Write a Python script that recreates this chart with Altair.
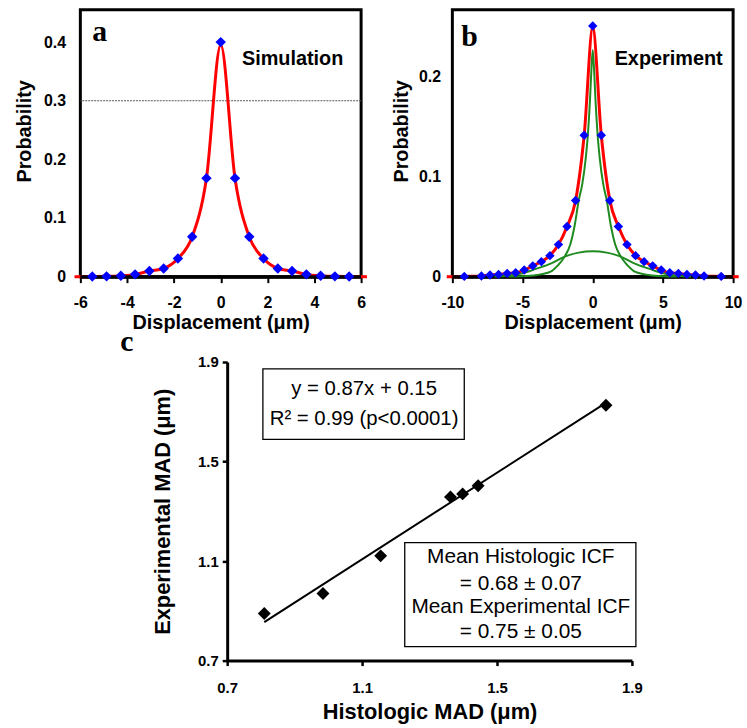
import altair as alt
import pandas as pd

FONT = "Liberation Sans"
SERIF = "Liberation Serif"

# ---------------- data ----------------
# panel a : simulation
sim_x = [-5.49, -4.88, -4.27, -3.66, -3.05, -2.44, -1.83, -1.22, -0.61, 0.0,
         0.61, 1.22, 1.83, 2.44, 3.05, 3.66, 4.27, 4.88, 5.49]
sim_p = [0.0003, 0.0006, 0.0017, 0.004, 0.0096, 0.014, 0.031, 0.068, 0.168, 0.400,
         0.168, 0.068, 0.031, 0.014, 0.0096, 0.004, 0.0017, 0.0006, 0.0003]
sim_fit_x = [-6.25, -5.49, -4.88, -4.27, -3.66, -3.05, -2.44, -1.83, -1.22, -0.61, 0.0,
             0.61, 1.22, 1.83, 2.44, 3.05, 3.66, 4.27, 4.88, 5.49, 6.25]
sim_fit_p = [0.0, 0.0003, 0.0006, 0.0017, 0.004, 0.0096, 0.014, 0.031, 0.068, 0.168, 0.395,
             0.168, 0.068, 0.031, 0.014, 0.0096, 0.004, 0.0017, 0.0006, 0.0003, 0.0]
sim_ref_line = [0.3]
sim_xticks = [-6, -4, -2, 0, 2, 4, 6]
sim_yticks = [0, 0.1, 0.2, 0.3, 0.4]

# panel b : experiment
exp_x = [-9.15, -7.93, -7.32, -6.71, -6.10, -5.49, -4.88, -4.27, -3.66, -3.05, -2.44,
         -1.83, -1.22, -0.61, 0.0, 0.61, 1.22, 1.83, 2.44, 3.05, 3.66, 4.27, 4.88,
         5.49, 6.10, 6.71, 7.32, 7.93, 9.15]
exp_p = [0.0003, 0.0007, 0.0017, 0.0023, 0.0033, 0.004, 0.0066, 0.0108, 0.015, 0.021, 0.032,
         0.050, 0.076, 0.141, 0.250, 0.141, 0.076, 0.050, 0.032, 0.021, 0.015, 0.0108, 0.0066,
         0.004, 0.0033, 0.0023, 0.0017, 0.0007, 0.0003]
exp_fit_x = [-10.4, -9.15, -7.93, -7.32, -6.71, -6.10, -5.49, -4.88, -4.27, -3.66, -3.05, -2.44,
             -1.83, -1.22, -0.61, 0.0, 0.61, 1.22, 1.83, 2.44, 3.05, 3.66, 4.27, 4.88,
             5.49, 6.10, 6.71, 7.32, 7.93, 9.15, 10.4]
exp_fit_p = [0.0, 0.0003, 0.0007, 0.0017, 0.0023, 0.0033, 0.004, 0.0066, 0.0108, 0.015, 0.021, 0.032,
             0.050, 0.076, 0.141, 0.248, 0.141, 0.076, 0.050, 0.032, 0.021, 0.015, 0.0108, 0.0066,
             0.004, 0.0033, 0.0023, 0.0017, 0.0007, 0.0003, 0.0]
narrow_x = [-6, -5, -4, -3, -2.5, -2, -1.6, -1.3, -1.0, -0.75, -0.5, -0.35, -0.2, -0.1, 0,
            0.1, 0.2, 0.35, 0.5, 0.75, 1.0, 1.3, 1.6, 2, 2.5, 3, 4, 5, 6]
narrow_p = [0.0002, 0.0005, 0.0017, 0.005, 0.011, 0.020, 0.032, 0.050, 0.076, 0.092, 0.118,
            0.141, 0.175, 0.205, 0.226, 0.205, 0.175, 0.141, 0.118, 0.092, 0.076, 0.050,
            0.032, 0.020, 0.011, 0.005, 0.0017, 0.0005, 0.0002]
broad_x = [-7, -6, -5, -4, -3, -2, -1, 0, 1, 2, 3, 4, 5, 6, 7]
broad_p = [0.0003, 0.001, 0.0033, 0.008, 0.013, 0.020, 0.024, 0.0254,
           0.024, 0.020, 0.013, 0.008, 0.0033, 0.001, 0.0003]
exp_xticks = [-10, -5, 0, 5, 10]
exp_yticks = [0, 0.1, 0.2]

# panel c : MAD comparison
hist_mad = [0.81, 0.984, 1.155, 1.362, 1.398, 1.444, 1.823]
exp_mad = [0.889, 0.97, 1.121, 1.358, 1.37, 1.403, 1.726]
reg_x = [0.81, 1.81]
reg_y = [0.855, 1.725]
mad_ticks = [0.7, 1.1, 1.5, 1.9]

eq_lines = ["y = 0.87x + 0.15", "R² = 0.99 (p<0.0001)"]
icf_lines = ["Mean Histologic ICF", "= 0.68 ± 0.07", "Mean Experimental ICF", "= 0.75 ± 0.05"]

# ---------------- helpers ----------------
def x_axis_top(values):
    return alt.Axis(values=values, title="Displacement (μm)", tickSize=6, tickWidth=2,
                    labelExpr="'' + datum.value",
                    tickColor="black", domainColor="black", domainWidth=3,
                    labelPadding=12, titlePadding=2, labelFontSize=16, titleFontSize=20,
                    labelFontWeight="bold", titleFontWeight="bold", labelFlush=False,
                    grid=False)


def y_axis_top(values, lp, ext, tp):
    return alt.Axis(values=values, title="Probability",
                    labelExpr="datum.value == 0 ? '0' : format(datum.value, '.1f')",
                    domain=False, ticks=False, labelPadding=lp, minExtent=ext, maxExtent=ext,
                    titlePadding=tp, titleY=122, labelFontSize=16, titleFontSize=20,
                    labelFontWeight="bold", titleFontWeight="bold", grid=False)


def text_chart(txt, x, y, size, weight="bold", font=FONT, align="center", baseline="middle"):
    return alt.Chart(pd.DataFrame({"t": [txt]})).mark_text(
        font=font, fontSize=size, fontWeight=weight, align=align, baseline=baseline,
        color="black").encode(text="t:N", x=alt.value(x), y=alt.value(y))


# ---------------- panel a ----------------
xa = dict(scale=alt.Scale(domain=[-6, 6], nice=False, zero=False),
          axis=x_axis_top(sim_xticks))
ya = dict(scale=alt.Scale(domain=[0, 0.455], nice=False),
          axis=y_axis_top(sim_yticks, 15, 36, 10))

df_a = pd.DataFrame({"x": sim_x, "p": sim_p})
df_a_fit = pd.DataFrame({"x": sim_fit_x, "p": sim_fit_p})

a_ref = alt.Chart(pd.DataFrame({"p": sim_ref_line})).mark_rule(
    color="#555555", strokeWidth=1, strokeDash=[2, 1]).encode(y=alt.Y("p:Q", **ya))
a_fit = alt.Chart(df_a_fit).mark_line(color="#ff0000", strokeWidth=3, clip=False,
                                      interpolate="monotone").encode(
    x=alt.X("x:Q", **xa), y=alt.Y("p:Q", **ya))
a_base = alt.Chart(pd.DataFrame({"p": [0]})).mark_rule(color="black", strokeWidth=3).encode(
    y=alt.Y("p:Q", **ya))
a_pts = alt.Chart(df_a).mark_point(shape="diamond", filled=True, color="#0000ff",
                                   size=110, opacity=1).encode(
    x=alt.X("x:Q", **xa), y=alt.Y("p:Q", **ya))
panel_a = alt.layer(
    a_ref, a_fit, a_base, a_pts,
    text_chart("a", 12, 31, 30, font=SERIF, align="left", baseline="alphabetic"),
    text_chart("Simulation", 214, 50, 20),
    # label of panel c, placed below panel a (left of panel c's axis title)
    text_chart("c", 47, 344, 30, font=SERIF, align="center", baseline="alphabetic"),
).properties(width=283, height=269,
             view=alt.ViewBackground(stroke="black", strokeWidth=3))

# ---------------- panel b ----------------
xb = dict(scale=alt.Scale(domain=[-10, 10], nice=False, zero=False),
          axis=x_axis_top(exp_xticks))
yb = dict(scale=alt.Scale(domain=[0, 0.266], nice=False),
          axis=y_axis_top(exp_yticks, 12, 33, 8))

df_b = pd.DataFrame({"x": exp_x, "p": exp_p})
df_b_fit = pd.DataFrame({"x": exp_fit_x, "p": exp_fit_p})
df_n = pd.DataFrame({"x": narrow_x, "p": narrow_p})
df_w = pd.DataFrame({"x": broad_x, "p": broad_p})

b_fit = alt.Chart(df_b_fit).mark_line(color="#ff0000", strokeWidth=3, clip=False,
                                      interpolate="monotone").encode(
    x=alt.X("x:Q", **xb), y=alt.Y("p:Q", **yb))
b_base = alt.Chart(pd.DataFrame({"p": [0]})).mark_rule(color="black", strokeWidth=3).encode(
    y=alt.Y("p:Q", **yb))
b_narrow = alt.Chart(df_n).mark_line(color="#1f8a1f", strokeWidth=2,
                                     interpolate="monotone").encode(
    x=alt.X("x:Q", **xb), y=alt.Y("p:Q", **yb))
b_broad = alt.Chart(df_w).mark_line(color="#1f8a1f", strokeWidth=2,
                                    interpolate="monotone").encode(
    x=alt.X("x:Q", **xb), y=alt.Y("p:Q", **yb))
b_pts = alt.Chart(df_b).mark_point(shape="diamond", filled=True, color="#0000ff",
                                   size=90, opacity=1).encode(
    x=alt.X("x:Q", **xb), y=alt.Y("p:Q", **yb))
panel_b = alt.layer(
    b_fit, b_base, b_narrow, b_broad, b_pts,
    text_chart("b", 9, 36, 30, font=SERIF, align="left", baseline="alphabetic"),
    text_chart("Experiment", 218, 50, 20),
).properties(width=283, height=269,
             view=alt.ViewBackground(stroke="black", strokeWidth=3))

# ---------------- panel c ----------------
xc = dict(scale=alt.Scale(domain=[0.7, 1.9], nice=False, zero=False),
          axis=alt.Axis(values=mad_ticks, format=".1f", title="Histologic MAD (μm)",
                        tickSize=5, tickWidth=2.5, tickColor="black", domainColor="black",
                        domainWidth=3, labelPadding=15, titlePadding=6, labelFontSize=15,
                        titleFontSize=22, labelFontWeight="bold", titleFontWeight="bold",
                        labelFlush=False, grid=False))
yc = dict(scale=alt.Scale(domain=[0.7, 1.9], nice=False, zero=False),
          axis=alt.Axis(values=mad_ticks, format=".1f",
                        title="Experimental MAD (μm)", tickSize=5, tickWidth=2.5,
                        tickColor="black", domainColor="black", domainWidth=3,
                        labelPadding=4, minExtent=30, maxExtent=30, titlePadding=23,
                        labelFontSize=15, titleFontSize=22, labelFontWeight="bold",
                        titleFontWeight="bold", labelFlush=False, grid=False))

df_c = pd.DataFrame({"h": hist_mad, "e": exp_mad})
df_reg = pd.DataFrame({"h": reg_x, "e": reg_y})

c_line = alt.Chart(df_reg).mark_line(color="black", strokeWidth=2).encode(
    x=alt.X("h:Q", **xc), y=alt.Y("e:Q", **yc))
c_pts = alt.Chart(df_c).mark_point(shape="diamond", filled=True, color="black",
                                   size=170, opacity=1).encode(
    x=alt.X("h:Q", **xc), y=alt.Y("e:Q", **yc))


def box(x1, x2, y1, y2):
    return alt.Chart(pd.DataFrame({"v": [0]})).mark_rect(
        fill="white", stroke="black", strokeWidth=1.3).encode(
        x=alt.value(x1), x2=alt.value(x2), y=alt.value(y1), y2=alt.value(y2))


c_layers = [c_line, c_pts, box(36, 239, 7, 78), box(179, 412, 182, 287)]
for txt, yy in zip(eq_lines, [27, 57]):
    c_layers.append(text_chart(txt, 138, yy, 20.5, weight="normal"))
for txt, yy in zip(icf_lines, [197, 224, 247, 272]):
    c_layers.append(text_chart(txt, 296, yy, 21, weight="normal"))

panel_c = alt.layer(*c_layers).properties(width=408, height=301)

spacer = alt.Chart(pd.DataFrame({"v": [0]})).mark_point(opacity=0).encode(
    x=alt.X("v:Q", axis=None), y=alt.Y("v:Q", axis=None)).properties(width=148, height=301)

row1 = alt.hconcat(panel_a, panel_b, spacing=92, bounds="flush")
row2 = alt.hconcat(spacer, panel_c, spacing=0, bounds="flush")

chart = alt.vconcat(row1, row2, spacing=-5).properties(
    padding={"left": 13, "top": 5, "right": 0, "bottom": 0},
    background="white",
).configure(font=FONT).configure_view(stroke="transparent").configure_axis(
    labelColor="black", titleColor="black", labelFont=FONT, titleFont=FONT)

chart.save("out.html", embed_options={"renderer": "svg", "actions": False})
